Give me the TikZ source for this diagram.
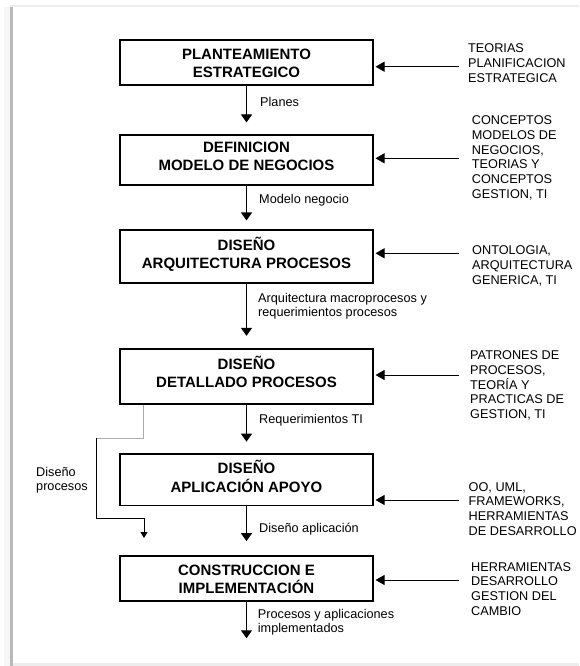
\documentclass[tikz,border=0pt]{standalone}
\usepackage{fontspec}
\setmainfont{Liberation Sans}
\usetikzlibrary{arrows.meta}
% two-line stage title, lifted by #1 without changing its box
\newcommand{\stagetext}[3]{\raisebox{#1}[\height][\depth]{\begin{tabular}{@{}c@{}}#2\\#3\end{tabular}}}
\begin{document}
\begin{tikzpicture}[x=1pt,y=-1pt,
  stagebox/.style={draw, line width=1.1pt, inner sep=0pt, minimum width=253pt,
    font=\fontsize{15}{18}\selectfont\bfseries},
  flowlabel/.style={anchor=west, inner sep=0pt, align=left, font=\fontsize{12.7}{13.8}\selectfont},
  source/.style={anchor=north west, inner sep=0pt, align=left, font=\fontsize{12.7}{14.8}\selectfont},
  flow/.style={line width=1.1pt, -{Triangle[width=11pt,length=8pt]}},
  feed/.style={line width=1pt, -{Triangle[width=10pt,length=9pt]}, shorten >=2pt},
]
\useasboundingbox (0,0) rectangle (579,666);

% page frame with its shadow
\fill[gray!7] (4,7) rectangle (10,666);
\fill[gray!55] (10,7) rectangle (12.5,666);
\fill[gray!14] (10,5.5) rectangle (579,7.5);
\fill[gray!14] (12.5,662.5) rectangle (579,666);

% stages
\node[stagebox, minimum height=45pt]   (b1) at (246.5,62.5)   {\stagetext{-2pt}{PLANTEAMIENTO}{ESTRATEGICO}};
\node[stagebox, minimum height=50pt]   (b2) at (246.5,160)    {\stagetext{2.5pt}{DEFINICION}{MODELO DE NEGOCIOS}};
\node[stagebox, minimum height=53pt]   (b3) at (246.5,256.5)  {\stagetext{0.6pt}{DISEÑO}{ARQUITECTURA PROCESOS}};
\node[stagebox, minimum height=55pt]   (b4) at (246.5,376.5)  {\stagetext{2.3pt}{DISEÑO}{DETALLADO PROCESOS}};
\node[stagebox, minimum height=51.5pt] (b5) at (246.5,479.75) {\stagetext{0.5pt}{DISEÑO}{APLICACIÓN APOYO}};
\node[stagebox, minimum height=45pt]   (b6) at (246.5,578.5)  {\stagetext{-2.5pt}{CONSTRUCCION E}{IMPLEMENTACIÓN}};

% main flow
\coordinate (out) at (246.5,638.3);
\draw[flow] (b1.south) -- ([yshift=12pt]b2.north);
\draw[flow] (b2.south) -- ([yshift=9pt]b3.north);
\draw[flow] (b3.south) -- ([yshift=12.6pt]b4.north);
\draw[flow] (b4.south) -- ([yshift=11.8pt]b5.north);
\draw[flow] (b5.south) -- ([yshift=14.3pt]b6.north);
\draw[flow] (b6.south) -- (out);

% flow labels
\node[flowlabel] (l1) at (260,101.7) {Planes};
\node[flowlabel] (l2) at (259,200) {Modelo negocio};
\node[flowlabel] (l3) at (258,306.3) {Arquitectura macroprocesos y\\requerimientos procesos};
\node[flowlabel] (l4) at (259,420) {Requerimientos TI};
\node[flowlabel] (l5) at (259,529.3) {Diseño aplicación};
\node[flowlabel] (l6) at (257.7,622.2) {Procesos y aplicaciones\\implementados};

% process design bypass
\coordinate (k0) at ([xshift=24pt]b4.south west);
\coordinate (k1) at (96.7,438.3);
\coordinate (k2) at (144,518.3);
\coordinate (k3) at (144,538);
\draw[gray!65, line width=0.8pt] (k0) |- (k1);
\draw[line width=0.9pt, -{Triangle[width=7pt,length=6pt]}] (k1) |- (k2) -- (k3);
\node[flowlabel] (dp) at (36,480) {Diseño\\procesos};

% knowledge sources
\node[source] (t1) at (468,43.7)   {TEORIAS\\PLANIFICACION\\ESTRATEGICA};
\node[source] (t2) at (471.7,115.4) {CONCEPTOS\\MODELOS DE\\NEGOCIOS,\\TEORIAS Y\\CONCEPTOS\\GESTION, TI};
\node[source] (t3) at (472,245.4)  {ONTOLOGIA,\\ARQUITECTURA\\GENERICA, TI};
\node[source] (t4) at (470,350.4)  {PATRONES DE\\PROCESOS,\\TEORÍA Y\\PRACTICAS DE\\GESTION, TI};
\node[source] (t5) at (468.5,482.1) {OO, UML,\\FRAMEWORKS,\\HERRAMIENTAS\\DE DESARROLLO};
\node[source] (t6) at (471,562.1)  {HERRAMIENTAS\\DESARROLLO\\GESTION DEL\\CAMBIO};

\coordinate (s1) at (459,66.7);
\coordinate (s2) at (459,158.3);
\coordinate (s3) at (459,253.3);
\coordinate (s4) at (459,375);
\coordinate (s5) at (459,500);
\coordinate (s6) at (459,580);
\draw[feed] (s1) -- (s1 -| b1.east);
\draw[feed] (s2) -- (s2 -| b2.east);
\draw[feed] (s3) -- (s3 -| b3.east);
\draw[feed] (s4) -- (s4 -| b4.east);
\draw[feed] (s5) -- (s5 -| b5.east);
\draw[feed] (s6) -- (s6 -| b6.east);
\end{tikzpicture}
\end{document}
